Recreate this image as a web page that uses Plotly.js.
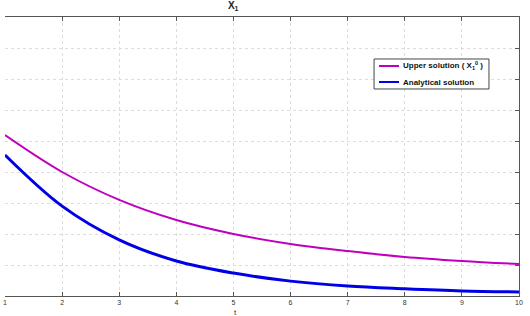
<!DOCTYPE html>
<html>
<head>
<meta charset="utf-8">
<script src="https://cdn.plot.ly/plotly-3.0.1.min.js"></script>
<style>html,body{margin:0;padding:0;background:#fff;}#chart{width:530px;height:316px;}</style>
</head>
<body>
<div id="chart"></div>
<script>
const t = [1, 2, 3, 4, 5, 6, 7, 8, 9, 10];
const upperSolution = [0.519, 0.400, 0.310, 0.245, 0.200, 0.168, 0.145, 0.126, 0.113, 0.103];
const analyticalSolution = [0.455, 0.290, 0.181, 0.113, 0.074, 0.048, 0.032, 0.023, 0.016, 0.013];
const xTicks = [1, 2, 3, 4, 5, 6, 7, 8, 9, 10];
const seriesNames = ['Upper solution ( X<sub>1</sub><sup>0</sup> )', 'Analytical solution'];
const seriesColors = ['rgb(190,0,190)', 'rgb(0,0,230)'];

const traces = [
  {x: t, y: upperSolution, mode: 'lines', name: seriesNames[0],
   line: {color: seriesColors[0], width: 2, shape: 'spline'}},
  {x: t, y: analyticalSolution, mode: 'lines', name: seriesNames[1],
   line: {color: seriesColors[1], width: 3, shape: 'spline'}}
];

// custom legend box (paper coordinates)
const lgX0 = 0.718, lgX1 = 0.9416, lgY0 = 0.742, lgY1 = 0.8495;
const rowY = [0.8244, 0.767];
const shapes = [
  {type: 'rect', xref: 'paper', yref: 'paper', x0: lgX0, x1: lgX1, y0: lgY0, y1: lgY1,
   line: {color: '#444', width: 1}, fillcolor: '#fff', layer: 'above'}
];
const annotations = [];
rowY.forEach((yy, i) => {
  shapes.push({type: 'line', xref: 'paper', yref: 'paper', x0: 0.7276, x1: 0.7665, y0: yy, y1: yy,
               line: {color: seriesColors[i], width: 2}, layer: 'above'});
  annotations.push({xref: 'paper', yref: 'paper', x: 0.7704, y: yy, xanchor: 'left', yanchor: 'middle',
                    text: '<b>' + seriesNames[i] + '</b>', showarrow: false,
                    font: {size: 8, color: '#111'}});
});
annotations.push({xref: 'paper', yref: 'paper', x: 0.449, y: 0, xanchor: 'center', yanchor: 'top',
                  yshift: -10, text: 't', showarrow: false, font: {size: 8, color: '#333'}});

const layout = {
  width: 530, height: 316,
  margin: {l: 5, r: 11, t: 17, b: 20},
  paper_bgcolor: '#fff', plot_bgcolor: '#fff',
  font: {family: 'Liberation Sans, Arial, sans-serif', size: 8, color: '#333'},
  title: {text: '<b>X<sub>1</sub></b>', x: 0.44, xanchor: 'center', y: 0.995, yanchor: 'top',
          font: {size: 10, color: '#222'}},
  xaxis: {
    range: [1, 10], tickvals: xTicks, ticktext: xTicks.map(String),
    showline: true, linecolor: '#555', linewidth: 1, mirror: 'ticks',
    ticks: 'inside', ticklen: 4, tickcolor: '#555',
    showgrid: true, gridcolor: '#dcdcdc', griddash: 'dot', gridwidth: 1,
    zeroline: false, tickfont: {size: 7, color: '#333'}
  },
  yaxis: {
    range: [0, 0.9], dtick: 0.1, side: 'right',
    showline: true, linecolor: '#555', linewidth: 1,
    ticks: 'inside', ticklen: 4, tickcolor: '#555',
    showticklabels: false,
    showgrid: true, gridcolor: '#dcdcdc', griddash: 'dot', gridwidth: 1,
    zeroline: false
  },
  showlegend: false,
  shapes: shapes,
  annotations: annotations
};

Plotly.newPlot('chart', traces, layout, {displayModeBar: false, staticPlot: true});
</script>
</body>
</html>
